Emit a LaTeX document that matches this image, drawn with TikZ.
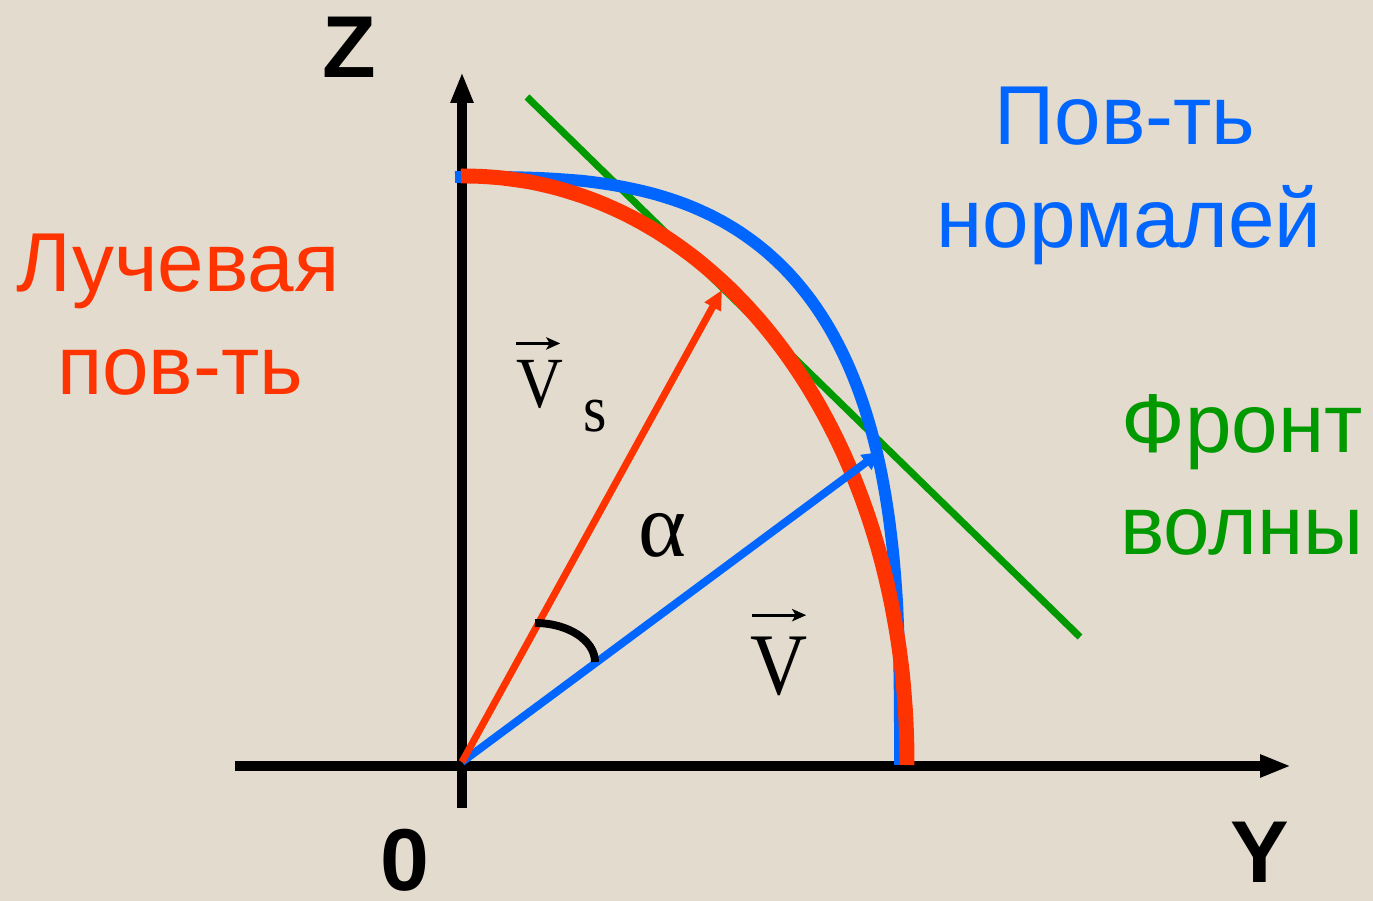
\documentclass[tikz,border=0pt]{standalone}
\usepackage{fontspec}
\setmainfont{Liberation Sans}
\newfontfamily\tnr[FakeStretch=0.9]{Liberation Serif}
\newfontfamily\tnrg{Liberation Serif}
\usetikzlibrary{arrows.meta}
\definecolor{bgc}{HTML}{E3DBCE}
\definecolor{rayred}{HTML}{FF3300}
\definecolor{normblue}{HTML}{0066FF}
\definecolor{frontgreen}{HTML}{009900}
\tikzset{
  axisline/.style={line width=5.4pt, black, -{Triangle[length=17.6pt,width=12pt]}},
  frontline/.style={line width=4pt, frontgreen},
  raycurve/.style={line width=8.5pt, rayred},
  normcurve/.style={line width=6.8pt, normblue},
  rayvec/.style={line width=4pt, rayred, -{Triangle[length=11pt,width=10pt]}},
  normvec/.style={line width=4.5pt, normblue, -{Triangle[length=10pt,width=10pt]}},
  anglearc/.style={line width=4.5pt, black},
  vecarr/.style={line width=1.7pt, black, -{Stealth[length=8pt,width=7pt,inset=2pt]}},
  txt/.style={inner sep=0pt, anchor=base},
  cyr/.style={txt, font=\fontsize{47.6}{56}\selectfont},
  axlab/.style={txt, font=\fontsize{50}{60}\selectfont\bfseries},
}
\begin{document}
\begin{tikzpicture}[x=0.02cm,y=0.02cm]
\fill[bgc] (0,0) rectangle (1373,901);
\useasboundingbox (0,0) rectangle (1373,901);

% coordinates
\coordinate (O) at (462,139);
\coordinate (zbot) at (462,93);
\coordinate (ztop) at (462,829);
\coordinate (yleft) at (235,135);
\coordinate (yright) at (1291,135);
\coordinate (g1) at (527,804);
\coordinate (g2) at (1080,264);
\coordinate (tipS) at (722,611);
\coordinate (tipV) at (880,449);

% axes
\draw[axisline] (zbot) -- (ztop);
\draw[axisline] (yleft) -- (yright);

% wave front
\draw[frontline] (g1) -- (g2);

% normal surface (superellipse)
\draw[normcurve] (455,724) -- plot[domain=89.95:0.05, samples=90, variable=\t]
  ({462+438*pow(cos(\t),0.667)}, {136+588*pow(sin(\t),0.667)}) -- (900,136);

% ray surface (near-ellipse)
\draw[raycurve] (461,725) -- plot[domain=89.95:0.05, samples=90, variable=\t]
  ({462+445*pow(cos(\t),0.9756)}, {136+589*pow(sin(\t),0.9756)}) -- (907,136);

% vectors
\draw[normvec] (O) -- (tipV);
\draw[rayvec] (O) -- (tipS);

% angle
\draw[anglearc] (535,278) arc[start angle=90, end angle=0, x radius=60, y radius=39];

% labels
\node[cyr, text=rayred] (l1) at (178,609) {Лучевая};
\node[cyr, text=rayred] (l2) at (180,506) {пов-ть};
\node[cyr, text=normblue] (n1) at (1125,756) {Пов-ть};
\node[cyr, text=normblue] (n2) at (1129,653) {нормалей};
\node[cyr, text=frontgreen] (f1) at (1242,448) {Фронт};
\node[cyr, text=frontgreen] (f2) at (1242,346) {волны};
\node[axlab] (zl) at (349,823) {Z};
\node[axlab] (yl) at (1260,18) {Y};
\node[axlab] (ol) at (405,10) {0};

\node[txt, font=\tnr\fontsize{41}{48}\selectfont] (vs) at (540,493) {V};
\node[txt, font=\tnr\fontsize{38}{44}\selectfont] (ss) at (595,469) {s};
\node[txt, font=\tnrg\fontsize{52}{60}\selectfont] (al) at (662,344) {α};
\node[txt, font=\tnr\fontsize{50}{58}\selectfont] (vv) at (779,206) {V};

\draw[vecarr] ([xshift=0pt,yshift=9.7pt]vs.north west) -- ([xshift=-2pt,yshift=9.7pt]vs.north east);
\draw[vecarr] ([xshift=1pt,yshift=12.5pt]vv.north west) -- ([xshift=-1pt,yshift=12.5pt]vv.north east);
\end{tikzpicture}
\end{document}
